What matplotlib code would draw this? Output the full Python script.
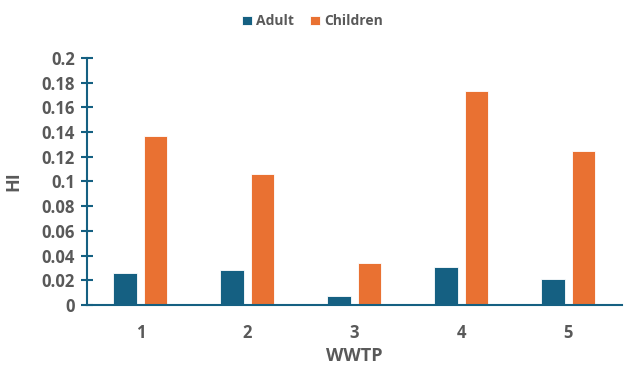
import numpy as np
import matplotlib.pyplot as plt

plt.rcParams["font.family"] = ["Open Sans", "DejaVu Sans"]

wwtp = ["1", "2", "3", "4", "5"]
adult = [0.026, 0.028, 0.007, 0.031, 0.021]
children = [0.137, 0.106, 0.034, 0.173, 0.125]

blue = "#156082"
orange = "#E97132"
grey = "#595959"

fig = plt.figure(figsize=(6.25, 3.67), dpi=100)
ax = fig.add_axes([0.139, 0.169, 0.856, 0.673])

x = np.arange(len(wwtp))
w = 0.22
off = 0.143
ax.bar(x - off, adult, w, color=blue, edgecolor="white", linewidth=0.6, label="Adult")
ax.bar(x + off, children, w, color=orange, edgecolor="white", linewidth=0.6, label="Children")

ax.set_xlim(-0.5, len(wwtp) - 0.5)
ax.set_ylim(0, 0.2)
ax.set_yticks(np.arange(0, 0.201, 0.02))
ax.set_yticklabels(["0", "0.02", "0.04", "0.06", "0.08", "0.1", "0.12", "0.14", "0.16", "0.18", "0.2"])
ax.set_xticks(x)
ax.set_xticklabels(wwtp)

for s in ["top", "right"]:
    ax.spines[s].set_visible(False)
for s in ["left", "bottom"]:
    ax.spines[s].set_color(blue)
    ax.spines[s].set_linewidth(1.5)

ax.tick_params(axis="y", direction="inout", length=9, width=1.5, color=blue,
               labelcolor=grey, labelsize=12, pad=4)
ax.tick_params(axis="x", length=0, labelcolor=grey, labelsize=12, pad=14)
for lab in ax.get_xticklabels() + ax.get_yticklabels():
    lab.set_fontweight("bold")

ax.set_ylabel("HI", fontsize=13, fontweight="bold", color=grey, labelpad=14)
ax.set_xlabel("WWTP", fontsize=13, fontweight="bold", color=grey, labelpad=3)

leg = fig.legend(loc="upper center", bbox_to_anchor=(0.5, 0.995), ncol=2, frameon=False,
                 handlelength=0.7, handleheight=0.7, handletextpad=0.3, columnspacing=1.2,
                 prop={"weight": "bold", "size": 10})
for t in leg.get_texts():
    t.set_color(grey)

fig.savefig("out.png", dpi=100)
